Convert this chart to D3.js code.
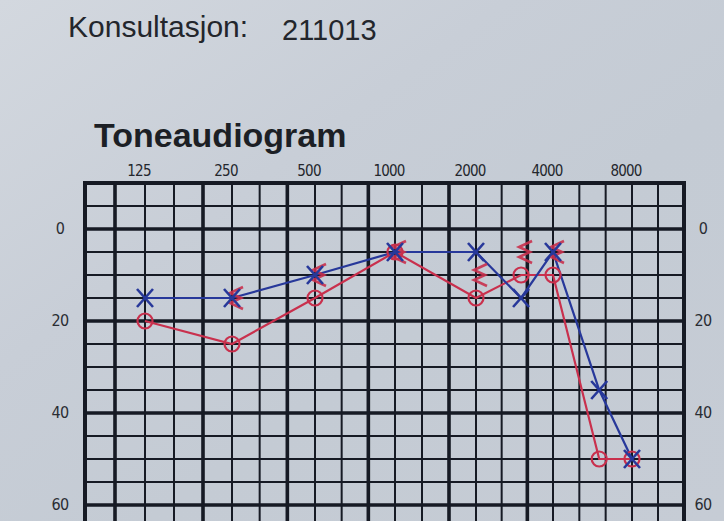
<!DOCTYPE html>
<html><head><meta charset="utf-8">
<script src="https://cdn.jsdelivr.net/npm/d3@7"></script>
<style>
html,body{margin:0;padding:0;background:#c9cfd8;}
svg{display:block;}
</style></head>
<body>
<svg id="c" width="724" height="521"></svg>
<script>
// ---- data ----
const freqTicks = [125, 250, 500, 1000, 2000, 4000, 8000];
const dbTicks = [0, 20, 40, 60];
const measuredFreqs = [125, 250, 500, 1000, 2000, 3000, 4000, 6000, 8000];
const leftEarDb = [15, 15, 10, 5, 5, 15, 5, 35, 50];   // blue X
const rightEarDb = [20, 25, 15, 5, 15, 10, 10, 50, 50]; // red O
const boneFreqs = [250, 500, 1000, 2000, 3000, 4000];
const boneDb = [15, 10, 5, 10, 5, 5];                   // red bone marks
const headerLabel = "Konsultasjon:";
const headerValue = "211013";
const chartTitle = "Toneaudiogram";

const svg = d3.select("#c");
const W = 724, H = 521;

// paper background
const defs = svg.append("defs");
const g1 = defs.append("linearGradient").attr("id","paper").attr("x1","0").attr("y1","0").attr("x2","1").attr("y2","1");
g1.append("stop").attr("offset","0").attr("stop-color","#d3d8df");
g1.append("stop").attr("offset","0.35").attr("stop-color","#c8ced7");
g1.append("stop").attr("offset","0.6").attr("stop-color","#c4cbd4");
g1.append("stop").attr("offset","1").attr("stop-color","#c6ccd5");
svg.append("rect").attr("width",W).attr("height",H).attr("fill","url(#paper)");

// scales (piecewise log scale: the photographed sheet is slightly in perspective)
const fMin = 125 * Math.pow(2, -2/3), fMax = 8000 * Math.pow(2, 2/3);
const x = d3.scaleLog().base(2)
  .domain([fMin, ...freqTicks, fMax])
  .range([85, 145, 232, 315, 395, 476, 553, 632, 684]);
const y = d3.scaleLinear().domain([0, 60]).range([229, 505]);

const gridColor = "#161a24";
const yTop = y(-10), yBot = y(70);

// grid lines: vertical every 1/3 octave
const thirdOctaves = d3.range(-2, 21).map(i => 125 * Math.pow(2, i/3));
const grid = svg.append("g");
thirdOctaves.forEach((f, i) => {
  const isOct = (i + 2) % 3 === 0 && i >= 0 && i <= 18;
  const edge = i === 0 || i === thirdOctaves.length - 1;
  grid.append("line")
    .attr("x1", x(f)).attr("x2", x(f))
    .attr("y1", yTop - 2).attr("y2", yBot)
    .attr("stroke", gridColor)
    .attr("stroke-width", edge ? 4 : (isOct ? 3.6 : 2));
});
// horizontal every 5 dB
d3.range(-10, 71, 5).forEach(d => {
  const thick = d % 20 === 0;
  grid.append("line")
    .attr("x1", x(fMin) - 2).attr("x2", x(fMax) + 2)
    .attr("y1", y(d)).attr("y2", y(d))
    .attr("stroke", gridColor)
    .attr("stroke-width", d === -10 ? 4 : (thick ? 3.6 : 2));
});

// frequency labels
svg.append("g").selectAll("text").data(freqTicks).join("text")
  .attr("x", d => x(d) - 6).attr("y", 176)
  .attr("text-anchor", "middle")
  .attr("font-family", "'Liberation Sans Narrow','DejaVu Sans Condensed',sans-serif")
  .attr("font-size", 15).attr("letter-spacing", -0.8)
  .attr("fill", "#24272d")
  .text(d => d);

// dB labels left and right
const dbFont = "'Liberation Sans Narrow','DejaVu Sans Condensed',sans-serif";
svg.append("g").selectAll("text").data(dbTicks).join("text")
  .attr("x", 60).attr("y", d => y(d) + 5)
  .attr("text-anchor", "middle")
  .attr("font-family", dbFont).attr("font-size", 16).attr("letter-spacing", -0.6)
  .attr("fill", "#2a2d33").text(d => d);
svg.append("g").selectAll("text").data(dbTicks).join("text")
  .attr("x", 703).attr("y", d => y(d) + 5)
  .attr("text-anchor", "middle")
  .attr("font-family", dbFont).attr("font-size", 16).attr("letter-spacing", -0.6)
  .attr("fill", "#2a2d33").text(d => d);

// header texts
svg.append("text").attr("x", 68).attr("y", 37)
  .attr("font-family", "'Liberation Sans',Arial,sans-serif").attr("font-size", 30)
  .attr("fill", "#23262c").text(headerLabel);
svg.append("text").attr("x", 282).attr("y", 40)
  .attr("font-family", "'Liberation Sans',Arial,sans-serif").attr("font-size", 29)
  .attr("fill", "#23262c").text(headerValue);
svg.append("text").attr("x", 94).attr("y", 147)
  .attr("font-family", "'Liberation Sans',Arial,sans-serif").attr("font-weight", "bold")
  .attr("font-size", 34)
  .attr("fill", "#1c1f25").text(chartTitle);

// data
const blue = "#27389a", red = "#c9304d";
const pts = (vals) => measuredFreqs.map((f, i) => [x(f), y(vals[i])]);
const line = d3.line();

svg.append("path").attr("d", line(pts(rightEarDb)))
  .attr("fill", "none").attr("stroke", red).attr("stroke-width", 2.2);
svg.append("path").attr("d", line(pts(leftEarDb)))
  .attr("fill", "none").attr("stroke", blue).attr("stroke-width", 2.2);

// red circles
svg.append("g").selectAll("circle").data(pts(rightEarDb)).join("circle")
  .attr("cx", d => d[0]).attr("cy", d => d[1]).attr("r", 7.5)
  .attr("fill", "none").attr("stroke", red).attr("stroke-width", 2.2);

// red bone conduction marks
svg.append("g").selectAll("path").data(boneFreqs.map((f, i) => [x(f) + 4, y(boneDb[i])])).join("path")
  .attr("d", d => `M${d[0]+7},${d[1]-11} L${d[0]-6},${d[1]-5} L${d[0]+5},${d[1]} L${d[0]-6},${d[1]+5} L${d[0]+7},${d[1]+11}`)
  .attr("fill", "none").attr("stroke", red).attr("stroke-width", 2.6).attr("opacity", 0.9);

// blue X
svg.append("g").selectAll("path").data(pts(leftEarDb)).join("path")
  .attr("d", d => `M${d[0]-8},${d[1]-9} L${d[0]+8},${d[1]+9} M${d[0]+8},${d[1]-9} L${d[0]-8},${d[1]+9}`)
  .attr("fill", "none").attr("stroke", blue).attr("stroke-width", 2.6);
</script>
</body></html>
